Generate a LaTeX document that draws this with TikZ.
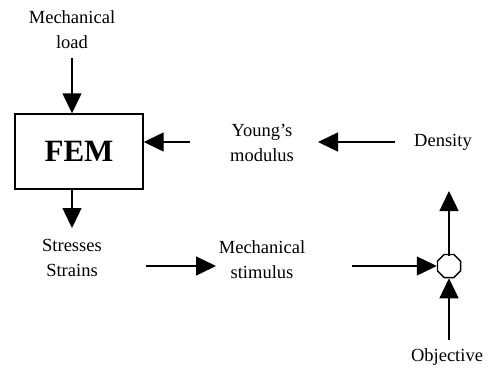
\documentclass[tikz,border=0pt]{standalone}
\usepackage{fontspec}
\setmainfont{Liberation Serif}
\usetikzlibrary{arrows.meta,shapes.geometric}
\begin{document}
\begin{tikzpicture}[x=1pt,y=-1pt,
  lbl/.style={font=\fontsize{18.5}{25}\selectfont,align=center,inner sep=0pt},
  arr/.style={line width=1.4pt,-{Triangle[length=20pt,width=19pt]}}]
\useasboundingbox (0,0) rectangle (500,378);
\node[lbl] (load) at (72,30) {Mechanical\\load};
\node[draw,line width=1.4pt,minimum width=128pt,minimum height=75pt,font=\fontsize{31}{36}\selectfont\bfseries] (fem) at (79,151.5) {FEM};
\node[lbl] (young) at (262,143) {Young\symbol{39}s\\modulus};
\node[lbl] (dens) at (443,142) {Density};
\node[lbl] (stress) at (72,258) {Stresses\\Strains};
\node[lbl] (stim) at (262,260) {Mechanical\\stimulus};
\node[draw,regular polygon,regular polygon sides=8,minimum size=25pt,inner sep=0pt,line width=1.4pt] (oct) at (449,266) {};
\node[lbl] (obj) at (447,357) {Objective};
\coordinate (a1) at (72,58);
\draw[arr] (a1) -- (fem.north -| a1);
\coordinate (a2) at (190,142);
\draw[arr] (a2) -- (fem.east |- a2);
\coordinate (a3) at (395,142);
\coordinate (a3e) at (318,142);
\draw[arr] (a3) -- (a3e);
\coordinate (a4) at (72,228);
\draw[arr] (fem.south -| a4) -- (a4);
\coordinate (a5) at (146,266);
\coordinate (a5e) at (216,266);
\draw[arr] (a5) -- (a5e);
\coordinate (a6) at (352,266);
\draw[arr] (a6) -- (oct.west);
\coordinate (a7) at (449,191);
\draw[arr] ([yshift=-2pt]oct.north) -- (a7);
\coordinate (a8) at (449,340);
\draw[arr] (a8) -- (oct.south);
\end{tikzpicture}
\end{document}
